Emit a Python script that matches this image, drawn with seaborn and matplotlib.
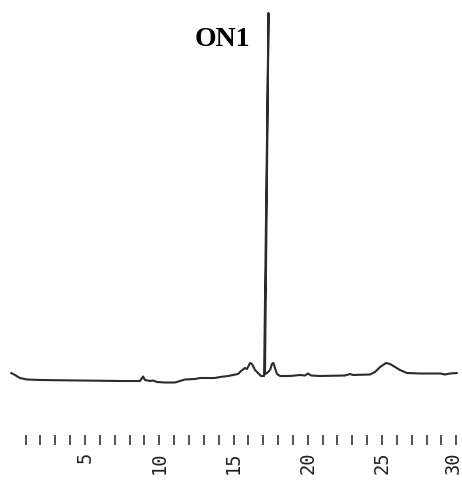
import matplotlib
matplotlib.use("Agg")
import matplotlib.pyplot as plt
import matplotlib.transforms as mtransforms
import seaborn as sns
import numpy as np

sns.set_style("white")

# Retention time (min) and detector signal (arbitrary units, baseline ~0)
time_min = [0.02, 0.29, 0.62, 1.09, 1.97, 4.66, 7.36, 8.70, 8.84, 8.91, 9.04, 9.38,
            9.58, 9.85, 10.39, 11.06, 11.40, 11.73, 12.41, 12.74, 13.75, 14.09, 14.63,
            14.97, 15.30, 15.51, 15.77, 15.91, 16.11, 16.25, 16.45, 16.65, 16.85,
            17.06, 17.36, 17.12, 17.26, 17.46, 17.59, 17.69, 17.79, 17.93, 18.13,
            18.80, 19.48, 19.81, 20.02, 20.22, 20.82, 22.51, 22.85, 23.05, 24.19,
            24.53, 24.87, 25.27, 25.54, 25.88, 26.21, 26.68, 27.56, 28.91, 29.24,
            29.58, 30.05]
signal = [7, 5, 2, 0.5, 0, -0.5, -1, -1, 2, 3.5, 0, -1,
          -0.5, -2, -2.5, -2.5, -1, 0.5, 1, 2, 2, 3, 4,
          5, 6, 9, 12, 11, 17, 16, 10, 7, 4,
          4, 367, 6, 7, 10, 16, 17, 12, 6, 4,
          4, 5, 4.5, 6.5, 4.5, 4, 4.5, 6, 5, 5.5,
          8, 13, 17, 16, 13, 10, 7, 6.5, 6.5, 5.5,
          6.5, 7]

tick_values = list(range(1, 31))
tick_labels = [str(v) if v % 5 == 0 else "" for v in tick_values]
peak_label = "ON1"

W, H = 462, 482
fig = plt.figure(figsize=(W / 100, H / 100), dpi=100)
ax = fig.add_axes([0, 37 / H, 1, 445 / H])

sns.lineplot(x=time_min, y=signal, sort=False, estimator=None, ax=ax,
             color="#2b2b2b", linewidth=1.5)

def px_to_min(px):
    return 5 + (px - 85) / 14.85

ax.set_xlim(px_to_min(0), px_to_min(W))
ax.set_ylim(-65, 380)

for s in ax.spines.values():
    s.set_visible(False)
ax.set_yticks([])
ax.set_xticks(tick_values)
ax.set_xticklabels(tick_labels, rotation=90, family="DejaVu Sans Mono",
                   fontsize=13.5, color="#222222")
ax.tick_params(axis="x", direction="in", length=7, width=1.3, color="#444444",
               pad=5, bottom=True)
ax.set_xlabel("")
ax.set_ylabel("")

# keep the last label inside the figure
last = ax.get_xticklabels()[-1]
last.set_transform(last.get_transform() +
                   mtransforms.ScaledTranslation(-3 / 100, 0, fig.dpi_scale_trans))

ax.text(px_to_min(222), 340, peak_label, ha="center", va="center",
        family="Liberation Serif", fontweight="bold", fontsize=20, color="black")

fig.savefig("out.png", dpi=100)
